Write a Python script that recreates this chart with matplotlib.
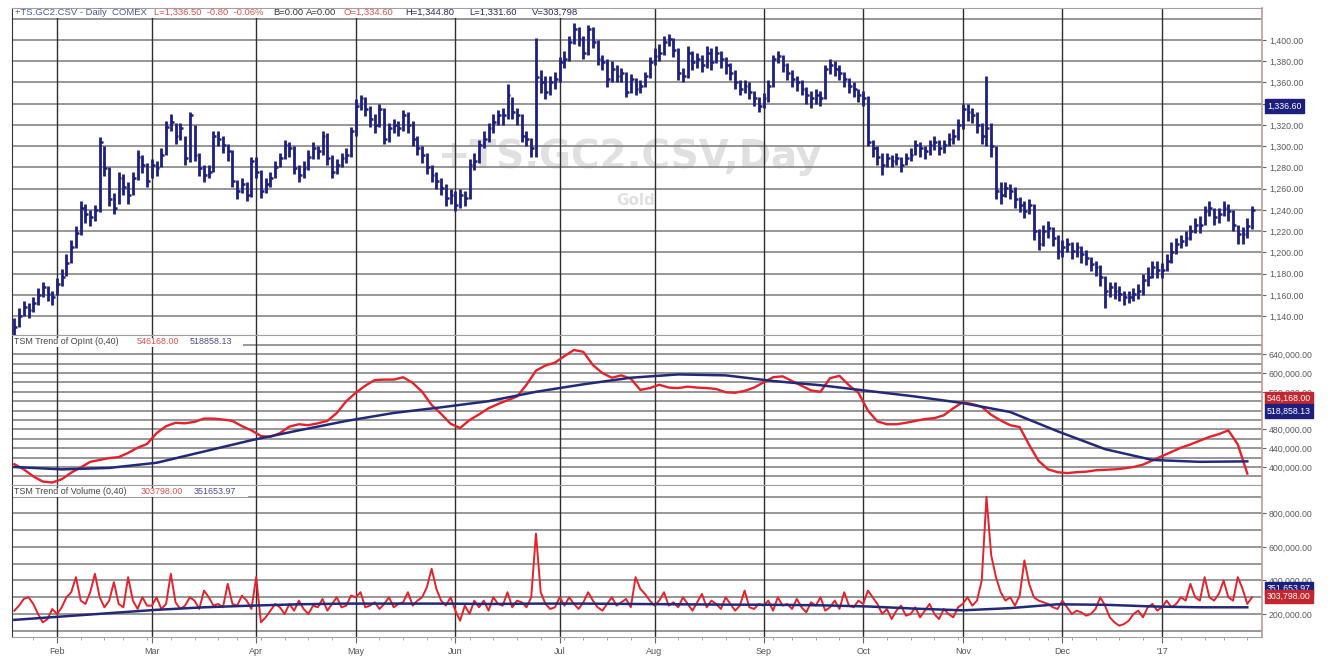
import numpy as np
import pandas as pd
import matplotlib
matplotlib.use('Agg')
import matplotlib.pyplot as plt
import matplotlib.transforms as mtransforms

plt.rcParams['font.family'] = ['Liberation Sans', 'DejaVu Sans']

# trading calendar (Jan 19 2016 .. Jan 31 2017, exchange holidays removed)
holidays = ['2016-02-15', '2016-03-25', '2016-05-30', '2016-07-04', '2016-09-05',
            '2016-11-24', '2016-12-26', '2017-01-02', '2017-01-16']
days = pd.bdate_range('2016-01-19', '2017-01-31')
days = days[~days.isin(pd.to_datetime(holidays))]

# daily gold bars, Jan16 .. Jan17
closes = [1130, 1140, 1149, 1146, 1152, 1160, 1167, 1161, 1158,
          1170, 1177, 1190, 1205, 1218, 1242, 1236, 1233, 1240, 1304, 1279, 1250, 1242, 1270, 1262, 1254, 1270, 1290, 1282, 1267,
          1282, 1279, 1292, 1318, 1323, 1310, 1317, 1289, 1329, 1292, 1279, 1273, 1276, 1310, 1307, 1301, 1295, 1267, 1258, 1264, 1254, 1286,
          1276, 1258, 1264, 1270, 1280, 1289, 1301, 1298, 1279, 1273, 1279, 1290, 1298, 1295, 1310, 1289, 1276, 1282, 1289, 1292, 1314,
          1338, 1345, 1335, 1326, 1320, 1335, 1307, 1317, 1320, 1317, 1329, 1320, 1307, 1298, 1292, 1280, 1273, 1267, 1261, 1251, 1254,
          1245, 1254, 1251, 1282, 1286, 1301, 1307, 1317, 1323, 1329, 1329, 1348, 1332, 1329, 1310, 1307, 1298, 1365, 1360, 1351, 1360, 1363,
          1379, 1382, 1398, 1410, 1401, 1388, 1410, 1398, 1382, 1379, 1363, 1373, 1366, 1369, 1351, 1363, 1354, 1357, 1366, 1379,
          1385, 1388, 1398, 1401, 1391, 1369, 1366, 1388, 1379, 1382, 1376, 1388, 1379, 1388, 1382, 1376, 1369, 1360, 1354, 1357, 1351, 1345, 1338,
          1345, 1357, 1382, 1385, 1376, 1369, 1363, 1360, 1354, 1348, 1345, 1348, 1345, 1373, 1376, 1373, 1369, 1363, 1357, 1354, 1348,
          1345, 1304, 1298, 1290, 1282, 1289, 1286, 1289, 1282, 1289, 1292, 1301, 1298, 1295, 1301, 1304, 1298, 1301, 1307, 1310, 1320,
          1335, 1332, 1329, 1320, 1310, 1317, 1300, 1258, 1254, 1261, 1258, 1250, 1245, 1239, 1245, 1220, 1208, 1220, 1223, 1214, 1201,
          1205, 1208, 1201, 1205, 1198, 1195, 1189, 1186, 1177, 1164, 1167, 1164, 1161, 1158, 1158, 1161, 1164, 1174, 1177, 1186, 1183,
          1183, 1192, 1200, 1208, 1211, 1214, 1220, 1226, 1226, 1239, 1242, 1233, 1236, 1242, 1239, 1226, 1217, 1217, 1225, 1240]
highs = [1138, 1148, 1154, 1152, 1158, 1166, 1172, 1168, 1164,
         1176, 1184, 1198, 1212, 1225, 1248, 1246, 1240, 1245, 1309, 1300, 1280, 1256, 1276, 1274, 1266, 1276, 1296, 1292, 1284,
         1288, 1286, 1298, 1324, 1330, 1322, 1322, 1310, 1332, 1320, 1294, 1282, 1282, 1314, 1314, 1310, 1302, 1296, 1268, 1270, 1266, 1290,
         1290, 1278, 1270, 1276, 1286, 1294, 1306, 1304, 1300, 1282, 1286, 1296, 1304, 1300, 1314, 1312, 1292, 1288, 1294, 1298, 1318,
         1344, 1348, 1346, 1338, 1330, 1340, 1336, 1322, 1326, 1324, 1334, 1332, 1324, 1310, 1300, 1294, 1282, 1276, 1270, 1264, 1260,
         1258, 1260, 1258, 1288, 1294, 1306, 1314, 1322, 1330, 1334, 1336, 1359, 1346, 1336, 1330, 1314, 1308, 1402, 1372, 1366, 1366, 1370,
         1384, 1390, 1404, 1416, 1412, 1404, 1414, 1412, 1400, 1386, 1382, 1380, 1376, 1374, 1370, 1368, 1364, 1362, 1370, 1384,
         1392, 1396, 1404, 1406, 1402, 1392, 1374, 1394, 1390, 1388, 1386, 1394, 1392, 1394, 1390, 1384, 1378, 1372, 1362, 1362, 1360, 1352, 1346,
         1350, 1362, 1386, 1390, 1386, 1378, 1372, 1366, 1362, 1356, 1352, 1354, 1352, 1376, 1382, 1380, 1376, 1370, 1364, 1360, 1354,
         1352, 1347, 1306, 1300, 1294, 1294, 1292, 1294, 1290, 1294, 1298, 1306, 1304, 1300, 1306, 1310, 1306, 1306, 1312, 1316, 1326,
         1340, 1340, 1336, 1332, 1322, 1366, 1322, 1300, 1266, 1266, 1264, 1262, 1252, 1248, 1250, 1246, 1222, 1226, 1230, 1224, 1216,
         1212, 1214, 1210, 1210, 1206, 1202, 1196, 1192, 1188, 1178, 1172, 1172, 1168, 1164, 1164, 1166, 1170, 1180, 1186, 1192, 1192,
         1190, 1198, 1210, 1214, 1216, 1220, 1226, 1232, 1234, 1244, 1248, 1242, 1242, 1248, 1246, 1240, 1226, 1224, 1232, 1244]
lows = [1122, 1130, 1140, 1138, 1144, 1150, 1158, 1154, 1150,
        1160, 1168, 1178, 1190, 1204, 1216, 1228, 1225, 1230, 1238, 1272, 1244, 1236, 1246, 1254, 1246, 1254, 1268, 1275, 1262,
        1270, 1272, 1280, 1292, 1314, 1302, 1306, 1282, 1285, 1286, 1272, 1266, 1270, 1276, 1300, 1294, 1286, 1262, 1250, 1256, 1248, 1252,
        1270, 1251, 1256, 1262, 1270, 1280, 1288, 1290, 1274, 1266, 1270, 1278, 1288, 1288, 1292, 1282, 1270, 1274, 1280, 1284, 1290,
        1310, 1334, 1328, 1318, 1312, 1318, 1302, 1304, 1312, 1310, 1314, 1312, 1300, 1292, 1284, 1274, 1266, 1260, 1254, 1244, 1246,
        1239, 1242, 1244, 1250, 1278, 1284, 1298, 1304, 1312, 1320, 1320, 1326, 1326, 1320, 1304, 1300, 1290, 1290, 1350, 1344, 1348, 1354,
        1360, 1374, 1380, 1396, 1394, 1382, 1386, 1392, 1376, 1372, 1356, 1360, 1360, 1360, 1346, 1350, 1348, 1350, 1356, 1364,
        1376, 1380, 1386, 1394, 1384, 1362, 1360, 1364, 1372, 1374, 1370, 1374, 1372, 1378, 1374, 1368, 1362, 1354, 1348, 1350, 1344, 1338, 1332,
        1336, 1342, 1356, 1378, 1370, 1362, 1356, 1352, 1348, 1340, 1336, 1340, 1338, 1344, 1368, 1366, 1362, 1356, 1350, 1346, 1342,
        1338, 1300, 1290, 1282, 1273, 1280, 1280, 1282, 1276, 1282, 1286, 1292, 1290, 1288, 1292, 1296, 1292, 1294, 1300, 1302, 1306,
        1316, 1324, 1322, 1312, 1302, 1300, 1290, 1250, 1246, 1252, 1250, 1242, 1238, 1232, 1236, 1212, 1202, 1206, 1214, 1206, 1194,
        1196, 1200, 1194, 1196, 1190, 1188, 1182, 1178, 1168, 1148, 1158, 1156, 1154, 1150, 1152, 1154, 1156, 1160, 1168, 1176, 1176,
        1176, 1182, 1190, 1198, 1204, 1206, 1212, 1218, 1218, 1226, 1234, 1226, 1228, 1234, 1230, 1220, 1208, 1208, 1214, 1222]

# daily volume (thousands of contracts)
volume = [220, 250, 290, 300, 260, 200, 150, 170, 230,
          200, 240, 300, 330, 420, 280, 260, 330, 440, 300, 240, 280, 390, 260, 240, 420, 280, 230, 300, 250,
          250, 300, 230, 260, 440, 270, 230, 250, 300, 280, 230, 340, 300, 250, 260, 240, 380, 260, 250, 310, 280, 230,
          420, 150, 180, 220, 260, 240, 200, 260, 220, 280, 230, 200, 250, 240, 290, 220, 260, 300, 240, 250, 310,
          300, 330, 240, 250, 270, 230, 260, 300, 240, 260, 270, 330, 250, 280, 300, 360, 470, 350, 280, 250, 300,
          220, 160, 250, 200, 280, 240, 280, 220, 300, 260, 250, 330, 240, 280, 270, 240, 300, 680, 330, 260, 230, 240,
          300, 250, 300, 260, 230, 270, 330, 280, 240, 220, 260, 300, 250, 270, 290, 240, 420, 350, 320, 280,
          250, 280, 330, 250, 270, 240, 300, 260, 220, 270, 320, 240, 280, 260, 230, 300, 260, 220, 250, 340, 240, 230, 260,
          250, 280, 220, 300, 250, 260, 230, 290, 240, 210, 270, 250, 300, 220, 240, 280, 230, 330, 250, 240, 280,
          260, 340, 300, 260, 200, 230, 170, 220, 250, 190, 200, 240, 180, 220, 260, 200, 170, 230, 200, 180, 240,
          260, 300, 250, 280, 400, 900, 550, 420, 330, 280, 300, 250, 310, 520, 380, 300, 280, 270, 260, 240, 230,
          280, 240, 200, 220, 210, 190, 200, 230, 300, 250, 180, 150, 130, 140, 160, 200, 220, 180, 240, 260, 220,
          240, 280, 240, 260, 300, 280, 380, 300, 280, 420, 300, 280, 320, 400, 300, 280, 420, 350, 260, 300]

# open interest (thousands), every 2nd bar
open_int = [406, 395, 380, 369, 367, 374, 388, 399, 411, 415, 419, 421, 430, 441, 449, 472, 487, 494, 493, 496,
            503, 503, 501, 498, 487, 478, 466, 464, 472, 486, 491, 489, 493, 498, 515, 540, 558, 573, 585, 586,
            586, 591, 579, 560, 532, 513, 492, 483, 500, 512, 525, 534, 542, 550, 575, 605, 616, 622, 636, 649,
            645, 617, 600, 590, 595, 588, 564, 568, 575, 569, 568, 571, 569, 568, 566, 559, 558, 562, 569, 580,
            591, 593, 583, 573, 563, 560, 589, 594, 574, 558, 520, 497, 491, 491, 494, 498, 502, 504, 510, 525,
            538, 534, 528, 511, 499, 489, 485, 447, 413, 395, 389, 387, 389, 390, 393, 394, 395, 397, 400, 405,
            414, 423, 432, 441, 448, 456, 464, 470, 478, 448, 386]
# 40-bar trend lines (thousands), every 10th bar
oi_trend = [400, 395, 398, 409, 433, 457, 478, 498, 515, 527, 540, 560, 576, 590, 597, 595, 583, 574, 562, 550,
            536, 517, 476, 438, 415, 411, 412]
vol_trend = [165, 185, 205, 225, 240, 250, 258, 262, 262, 262, 260, 262, 262, 260, 258, 256, 255, 252, 245, 232,
             222, 235, 258, 255, 245, 240, 240]

month_labels = ['Feb', 'Mar', 'Apr', 'May', 'Jun', 'Jul', 'Aug', 'Sep', 'Oct', 'Nov', 'Dec', "'17"]

navy = '#1c1f7e'
red = '#e4222c'
blue = '#222a78'

n = len(closes)
idx = np.arange(n)
month_idx = [i for i in range(1, n) if days[i].month != days[i - 1].month]
week_idx = [i for i in range(1, n) if days[i].weekday() < days[i - 1].weekday()]
oi_x = np.arange(len(open_int)) * 2
tr_x = np.arange(len(oi_trend)) * 10

W, H = 1328, 657
fig = plt.figure(figsize=(W / 100, H / 100), dpi=100)
fig.patch.set_facecolor('white')

def px_axes(top, bottom):
    return fig.add_axes([12 / W, 1 - bottom / H, 1250 / W, (bottom - top) / H])

ax1 = px_axes(8, 335)
ax2 = px_axes(335, 485)
ax3 = px_axes(485, 637)

xmin, xmax = -0.49, 263.1

def setup(ax, ylo, yhi, grid_levels, label_levels):
    ax.set_xlim(xmin, xmax)
    ax.set_ylim(ylo, yhi)
    for lv in grid_levels:
        ax.axhline(lv, color='#858585', lw=1.2, zorder=1)
    for m in month_idx:
        ax.axvline(m, color='#2e2e2e', lw=1.0, zorder=1)
    ax.yaxis.tick_right()
    ax.set_yticks(label_levels)
    ax.set_yticklabels([f'{v:,.2f}' for v in label_levels], fontsize=6.3, color='#5a5a5a')
    ax.tick_params(axis='y', length=3, width=0.8, color='#666666', pad=2)
    ax.set_xticks([])
    ax.spines['left'].set_color('#333333')
    ax.spines['right'].set_color('#c29898')
    ax.spines['right'].set_linewidth(1.2)
    ax.spines['top'].set_color('#a0a0a0')
    ax.spines['bottom'].set_color('#a0a0a0')

def value_box(ax, y, text, color):
    tr = mtransforms.blended_transform_factory(ax.transAxes, ax.transData)
    ax.text(1.004, y, text, transform=tr, fontsize=6.3, color='white', ha='left', va='center',
            bbox=dict(boxstyle='square,pad=0.25', fc=color, ec=color), clip_on=False, zorder=10)

# price panel
setup(ax1, 1122.2, 1430.1, np.arange(1140, 1421, 20), np.arange(1140, 1401, 20))
ax1.text(0.494, 0.545, '+TS.GC2.CSV,Day', transform=ax1.transAxes, fontsize=28, fontweight='bold',
         family='DejaVu Sans', color='#e0e0e0', ha='center', va='center', zorder=0.5)
ax1.text(0.499, 0.41, 'Gold', transform=ax1.transAxes, fontsize=11, fontweight='bold',
         family='DejaVu Sans', color='#e0e0e0', ha='center', va='center', zorder=0.5)
ax1.vlines(idx, lows, highs, color=navy, lw=2.0, zorder=3)
ax1.hlines(closes, idx, idx + 0.6, color=navy, lw=1.8, zorder=3)
value_box(ax1, 1338, '1,336.60', navy)

# open interest panel
setup(ax2, 361700, 680900, np.arange(380000, 680001, 20000),
      [400000, 440000, 480000, 560000, 600000, 640000])
ax2.plot(oi_x, np.array(open_int) * 1000, color=red, lw=1.7, zorder=3)
ax2.plot(tr_x, np.array(oi_trend) * 1000, color=blue, lw=1.8, zorder=4)
value_box(ax2, 546168, '546,168.00', '#c4262e')
value_box(ax2, 518858, '518,858.13', navy)

# volume panel
setup(ax3, 62700, 970100, np.arange(100000, 900001, 100000), [200000, 400000, 600000, 800000])
ax3.plot(idx, np.array(volume) * 1000, color=red, lw=1.4, zorder=3)
ax3.plot(tr_x, np.array(vol_trend) * 1000, color=blue, lw=1.8, zorder=4)
value_box(ax3, 351654, '351,653.97', navy)
value_box(ax3, 303798, '303,798.00', '#c4262e')
ax3.set_xticks(month_idx)
ax3.set_xticklabels(month_labels, fontsize=6.5, color='#555555')
ax3.set_xticks(week_idx, minor=True)
ax3.tick_params(axis='x', which='major', length=4, color='#666666', pad=3)
ax3.tick_params(axis='x', which='minor', length=2, color='#999999')

# header and study labels, each row on a white strip
def strip(y, width):
    fig.patches.append(plt.Rectangle((13 / W, 1 - (y + 4.5) / H), width / W, 9 / H,
                                     transform=fig.transFigure, fc='white', ec='none', zorder=4))

def ftext(x, y, s, color, size=6.8):
    fig.text(x / W, 1 - y / H, s, fontsize=size, color=color, ha='left', va='center', zorder=5)

strip(13, 600)
ftext(15, 12.5, '+TS.GC2.CSV - Daily  COMEX', '#4a5a9a')
ftext(154, 12.5, 'L=1,336.50  -0.80  -0.06%', '#e05050')
ftext(273, 12.5, 'B=0.00', '#333333')
ftext(306, 12.5, 'A=0.00', '#333333')
ftext(344, 12.5, 'O=1,334.60', '#e05050')
ftext(405, 12.5, 'H=1,344.80', '#2a2a5a')
ftext(469, 12.5, 'L=1,331.60', '#2a2a5a')
ftext(532, 12.5, 'V=303,798', '#2a2a5a')

strip(342, 230)
ftext(14, 342, 'TSM Trend of OpInt (0,40)', '#444444', 6.4)
ftext(137, 342, '546168.00', '#e05050', 6.4)
ftext(190, 342, '518858.13', '#4a4a90', 6.4)
strip(492, 235)
ftext(14, 492, 'TSM Trend of Volume (0,40)', '#444444', 6.4)
ftext(141, 492, '303798.00', '#e05050', 6.4)
ftext(194, 492, '351653.97', '#4a4a90', 6.4)

fig.savefig('out.png', dpi=100)
